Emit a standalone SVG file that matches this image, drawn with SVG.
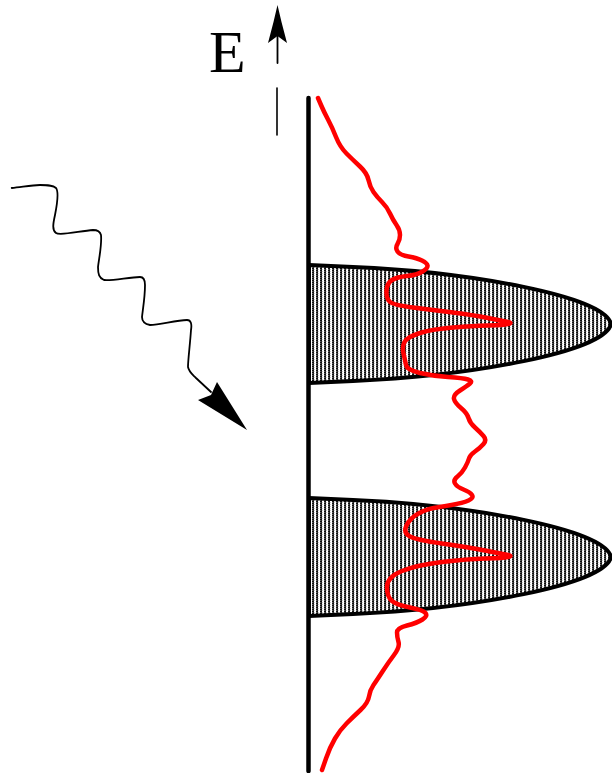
<svg xmlns="http://www.w3.org/2000/svg" width="612" height="773" viewBox="0 0 612 773">
<style>
.ink{fill:none;stroke:#000;stroke-linecap:round;stroke-linejoin:round}
.lobe{fill:url(#hatch);stroke:#000;stroke-width:4;stroke-linejoin:round}
.red{fill:none;stroke:#ff0000;stroke-width:4.5;stroke-linejoin:round;stroke-linecap:round}
.lbl{font-family:"Liberation Serif","Times New Roman",serif;font-size:60px;fill:#000}
</style>
<defs>
<pattern id="hatch" width="4" height="2" patternUnits="userSpaceOnUse">
<rect width="4" height="2" fill="#fff"/>
<rect x="0" y="0" width="2" height="1" fill="#111"/>
<rect x="0" y="1" width="1" height="1" fill="#666"/>
<rect x="1" y="1" width="1" height="1" fill="#333"/>
<rect x="2" y="1" width="1" height="1" fill="#ccc"/>
</pattern>
</defs>
<rect width="612" height="773" fill="#fff"/>
<g id="energy-axis-label">
<text class="lbl" x="209" y="72">E</text>
<path class="ink" stroke-width="1.8" d="M277.5,36 L277.5,63"/>
<path d="M277.5,5 L281.5,22 L287,43 L277.5,36 L268,43 L273.5,22 Z" fill="#000"/>
<path class="ink" stroke-width="1.6" d="M277,88 L277,135"/>
</g>
<g id="lobe-upper">
<path class="lobe" d="M309,265 L353,267 C470,272 605,296 611,324 C605,352 470,376 353,381 L309,383 Z"/>
</g>
<g id="lobe-lower">
<path class="lobe" transform="translate(0,233)" d="M309,265 L353,267 C470,272 605,296 611,324 C605,352 470,376 353,381 L309,383 Z"/>
</g>
<g id="axis">
<path class="ink" stroke-width="4.5" stroke-linecap="butt" d="M308.5,98 L308.5,771"/>
</g>
<g id="red-curve">
<path class="red" d="M318,98 L321,105 Q324,112 328,119.5 Q332,127 336,137 Q340,147 346.5,153.5 Q353,160 360,166.5 Q367,173 368.5,180 Q370,187 373.5,192 Q377,197 382,202 Q387,207 390,213.5 Q393,220 396.5,225 Q400,230 400,235 Q400,240 397.5,244 Q395,248 397.5,251.5 Q400,255 408.5,256.5 Q417,258 422,260.5 Q427,263 427.5,265.5 Q428,268 422.5,271.5 Q417,275 407,276 Q397,277 392,280 Q387,283 386.5,290.5 Q386,298 389.5,301.5 Q393,305 413,307.5 Q433,310 453,312.5 Q473,315 488,318 Q503,321 508,322 Q513,323 508,324 Q503,325 488,325.5 Q473,326 453,327.5 Q433,329 420,333 Q407,337 404.5,342 Q402,347 403.5,353.5 Q405,360 406,365 Q407,370 420,373 Q433,376 448,377 Q463,378 468,379.5 Q473,381 470,383.5 Q467,386 460,390.5 Q453,395 454,399 Q455,403 461,408 Q467,413 468.5,418 Q470,423 475,427.5 Q480,432 483.5,436 Q487,440 483.5,444 Q480,448 475,451.5 Q470,455 469,458.5 Q468,462 465,467.5 Q462,473 457.5,476.5 Q453,480 455,483.5 Q457,487 463.5,489.5 Q470,492 472,495 Q474,498 468.5,500.5 Q463,503 451.5,505 Q440,507 433.5,508 Q427,509 418.5,513.5 Q410,518 406.5,525.5 Q403,533 410,536.5 Q417,540 442,543.5 Q467,547 485,550.5 Q503,554 508,555 Q513,556 508,557 Q503,558 485,558.5 Q467,559 442,562 Q417,565 402,571 Q387,577 387,587 Q387,597 392,601 Q397,605 410,607.5 Q423,610 425.5,613 Q428,616 422.5,619.5 Q417,623 407,625.5 Q397,628 397,632.5 Q397,637 398.5,642 Q400,647 394,655 Q388,663 382.5,671.5 Q377,680 373.5,685 Q370,690 369,696.5 Q368,703 360.5,710 Q353,717 346.5,723.5 Q340,730 335,738.5 Q330,747 326,758.5 L322,770"/>
</g>
<g id="photon">
<path class="ink" stroke-width="1.8" d="M11.7,188 C22,187 32,185 40,185 C47,185 53,185 56,188 C59,192 57,205 55,215 C53,224 52,230 56,233 C60,236 80,231 93,230 C97,230 100,231 101,235 C102,245 99,258 98,267 C98,274 99,278 104,280 C112,281 130,277 140,277 C144,277 145,280 145,285 C145,297 143,308 142,317 C142,322 145,324 150,325 C160,325 176,320 187,320 C191,320 192,324 191,330 C190,345 188,360 188,367 C189,372 192,374 196,378 L211,392"/>
<path d="M247,430 L198,400 L211,395 L217,382 Z" fill="#000"/>
</g>
</svg>
